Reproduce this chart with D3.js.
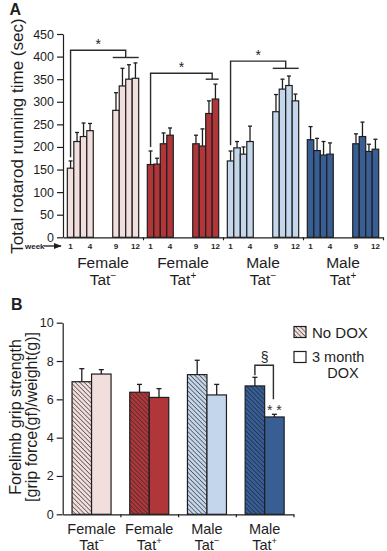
<!DOCTYPE html>
<html>
<head>
<meta charset="utf-8">
<script src="https://cdn.jsdelivr.net/npm/d3@7"></script>
<style>
  body { margin: 0; background: #fff; }
  svg { display: block; font-family: "Liberation Sans", Arial, sans-serif; }
</style>
</head>
<body>
<div id="chart"></div>
<script>
// groups shared by both panels
const groupSex = ["Female", "Female", "Male", "Male"];
const groupTat = ["\u2212", "+", "\u2212", "+"];
const groupColor = ["#f2dedd", "#b0363a", "#c4d6eb", "#385e93"];

// panel A: rotarod running time (sec) by week
const weeks = [1, 2, 3, 4, 9, 10, 11, 12];
const weekLabels = [1, 4, 9, 12];
const rotarodMean = [
  [153, 212, 223, 236, 281, 335, 350, 352],
  [161, 162, 207, 226, 207, 202, 274, 306],
  [169, 198, 184, 212, 278, 328, 336, 302],
  [216, 192, 182, 184, 207, 223, 190, 195]
];
const rotarodErr = [
  [16, 20, 30, 16, 39, 39, 32, 34],
  [30, 13, 24, 16, 19, 38, 28, 33],
  [22, 14, 16, 34, 38, 22, 21, 15],
  [29, 27, 30, 25, 22, 32, 16, 22]
];
const rotarodTicks = [0, 50, 100, 150, 200, 250, 300, 350, 400, 450];
// significance brackets: from week (left leg), top level, drop to span of weeks
const bracketGroup = [0, 1, 2];
const bracketTop = [414, 363, 390];
const bracketLow = [398, 350, 374];
const bracketLegEnd = [177, 200, 204];
const bracketSpan = [[9, 12], [11, 12], [9, 12]];

// panel B: forelimb grip strength
const gripNoDox = [6.92, 6.37, 7.29, 6.70];
const gripNoDoxErr = [0.68, 0.41, 0.75, 0.45];
const gripDox = [7.32, 6.10, 6.23, 5.08];
const gripDoxErr = [0.23, 0.46, 0.55, 0.14];
const gripTicks = [0, 2, 4, 6, 8, 10];

const W = 387, H = 551;
const ink = "#1e1e1e";

const svg = d3.select("#chart").append("svg")
  .attr("width", W)
  .attr("height", H);

const defs = svg.append("defs");
groupColor.forEach((c, i) => {
  const p = defs.append("pattern")
    .attr("id", "hatch" + i)
    .attr("patternUnits", "userSpaceOnUse")
    .attr("width", 3.2)
    .attr("height", 3.2)
    .attr("patternTransform", "rotate(-45)");
  p.append("rect").attr("width", 3.2).attr("height", 3.2).attr("fill", c);
  p.append("line")
    .attr("x1", 0).attr("y1", 0).attr("x2", 0).attr("y2", 3.2)
    .attr("stroke", i === 3 ? "#15223a" : "#2a2a2a")
    .attr("stroke-opacity", 0.85)
    .attr("stroke-width", 1.4);
});
defs.append("marker")
  .attr("id", "arrow")
  .attr("viewBox", "0 0 10 10")
  .attr("refX", 9).attr("refY", 5)
  .attr("markerWidth", 6).attr("markerHeight", 6)
  .attr("orient", "auto")
  .append("path")
  .attr("d", "M0,1 L10,5 L0,9 Z")
  .attr("fill", ink);

function styleAxis(sel) {
  sel.selectAll("path, line").attr("stroke", ink).attr("stroke-width", 1.2);
  sel.selectAll("text").attr("fill", ink).attr("font-size", 12.5);
}

function groupLabel(g, cx, y1, y2, size) {
  groupSex.forEach((s, i) => {
    const t = g.append("text")
      .attr("text-anchor", "middle")
      .attr("font-size", size)
      .attr("fill", ink);
    t.append("tspan").attr("x", cx(i)).attr("y", y1).text(s);
    t.append("tspan").attr("x", cx(i)).attr("y", y2).text("Tat");
    t.append("tspan")
      .attr("font-size", size * 0.65)
      .attr("dy", -size * 0.38)
      .text(groupTat[i]);
  });
}

// ---------------- Panel A ----------------
const gA = svg.append("g");
const yA = d3.scaleLinear().domain([0, 450]).range([237.3, 34]);
const xA = d3.scaleBand()
  .domain(d3.range(4))
  .range([63, 383])
  .paddingInner(0.108)
  .paddingOuter(0.054);
const slots = ["1", "2", "3", "4", "a", "b", "c", "9", "10", "11", "12"];
const xWeek = d3.scaleBand().domain(slots).range([0, xA.bandwidth()]);
const barX = (gi, w) => xA(gi) + xWeek(String(w));
const barC = (gi, w) => barX(gi, w) + xWeek.bandwidth() / 2;

gA.append("g")
  .attr("transform", "translate(63,0)")
  .call(d3.axisLeft(yA).tickValues(rotarodTicks).tickSize(6).tickPadding(3).tickSizeOuter(0))
  .call(styleAxis);

const edgeA = d3.scaleLinear().domain([0, 4]).range([63, 383]);
gA.append("g")
  .attr("transform", `translate(0,${yA(0)})`)
  .call(d3.axisBottom(edgeA).tickValues([1, 2, 3, 4]).tickSize(3).tickSizeOuter(0).tickFormat(""))
  .call(styleAxis);

const barsA = rotarodMean.flatMap((arr, gi) => arr.map((v, k) => ({
  gi, week: weeks[k], v, e: rotarodErr[gi][k]
})));

gA.selectAll(".errA")
  .data(barsA)
  .join("g")
  .attr("class", "errA")
  .each(function (d) {
    const c = barC(d.gi, d.week);
    const g = d3.select(this);
    g.append("line")
      .attr("x1", c).attr("x2", c)
      .attr("y1", yA(d.v)).attr("y2", yA(d.v + d.e))
      .attr("stroke", ink).attr("stroke-width", 1.3);
    g.append("line")
      .attr("x1", c - 2).attr("x2", c + 2)
      .attr("y1", yA(d.v + d.e)).attr("y2", yA(d.v + d.e))
      .attr("stroke", ink).attr("stroke-width", 1.3);
  });

gA.selectAll(".barA")
  .data(barsA)
  .join("rect")
  .attr("class", "barA")
  .attr("x", d => barX(d.gi, d.week))
  .attr("y", d => yA(d.v))
  .attr("width", xWeek.bandwidth())
  .attr("height", d => yA(0) - yA(d.v))
  .attr("fill", d => groupColor[d.gi])
  .attr("stroke", ink)
  .attr("stroke-width", 1.2);

// week labels
gA.selectAll(".wk")
  .data(d3.range(4).flatMap(gi => weekLabels.map(w => ({ gi, w }))))
  .join("text")
  .attr("class", "wk")
  .attr("x", d => barC(d.gi, d.w))
  .attr("y", 248.5)
  .attr("text-anchor", "middle")
  .attr("font-size", 8)
  .attr("font-weight", "bold")
  .attr("fill", ink)
  .text(d => d.w);

gA.append("text")
  .attr("x", 25).attr("y", 248.5)
  .attr("font-size", 8)
  .attr("font-weight", "bold")
  .attr("fill", ink)
  .text("week");
gA.append("line")
  .attr("x1", 44).attr("x2", 61)
  .attr("y1", 246).attr("y2", 246)
  .attr("stroke", ink).attr("stroke-width", 1.3)
  .attr("marker-end", "url(#arrow)");

groupLabel(gA, i => xA(i) + xA.bandwidth() / 2, 267.5, 284.5, 15.5);

// brackets
bracketGroup.forEach((gi, k) => {
  const x0 = barC(gi, 1);
  const s0 = barX(gi, bracketSpan[k][0]);
  const s1 = barX(gi, bracketSpan[k][1]) + xWeek.bandwidth();
  const mid = (s0 + s1) / 2;
  gA.append("path")
    .attr("d", `M${x0},${yA(bracketLegEnd[k])}V${yA(bracketTop[k])}H${mid}V${yA(bracketLow[k])}`)
    .attr("fill", "none")
    .attr("stroke", "#2b2b2b")
    .attr("stroke-width", 1.4);
  gA.append("line")
    .attr("x1", s0).attr("x2", s1)
    .attr("y1", yA(bracketLow[k])).attr("y2", yA(bracketLow[k]))
    .attr("stroke", "#2b2b2b").attr("stroke-width", 1.4);
  gA.append("text")
    .attr("x", (x0 + mid) / 2)
    .attr("y", yA(bracketTop[k]) - 1.5)
    .attr("text-anchor", "middle")
    .attr("font-size", 14)
    .attr("fill", ink)
    .text("*");
});

gA.append("text")
  .attr("transform", "rotate(-90)")
  .attr("x", -136)
  .attr("y", 22.5)
  .attr("text-anchor", "middle")
  .attr("font-size", 17)
  .attr("fill", ink)
  .text("Total rotarod running time (sec)");

svg.append("text")
  .attr("x", 9.5).attr("y", 14.5)
  .attr("font-size", 16)
  .attr("font-weight", "bold")
  .attr("fill", ink)
  .text("A");

// ---------------- Panel B ----------------
const gB = svg.append("g");
const yB = d3.scaleLinear().domain([0, 10]).range([514.3, 322.7]);
const xB = d3.scaleBand()
  .domain(d3.range(4))
  .range([62.7, 293.5])
  .paddingInner(0.324)
  .paddingOuter(0.162);
const xDox = d3.scaleBand().domain(["no", "dox"]).range([0, xB.bandwidth()]);

gB.append("g")
  .attr("transform", "translate(62.7,0)")
  .call(d3.axisLeft(yB).tickValues(gripTicks).tickSize(6).tickPadding(3).tickSizeOuter(0))
  .call(styleAxis);

const edgeB = d3.scaleLinear().domain([0, 4]).range([62.7, 293.5]);
gB.append("g")
  .attr("transform", `translate(0,${yB(0)})`)
  .call(d3.axisBottom(edgeB).tickValues([1, 2, 3, 4]).tickSize(3).tickSizeOuter(0).tickFormat(""))
  .call(styleAxis);

const barsB = d3.range(4).flatMap(gi => [
  { gi, k: "no", v: gripNoDox[gi], e: gripNoDoxErr[gi] },
  { gi, k: "dox", v: gripDox[gi], e: gripDoxErr[gi] }
]);
const bXB = d => xB(d.gi) + xDox(d.k);
const bCB = d => bXB(d) + xDox.bandwidth() / 2;

gB.selectAll(".errB")
  .data(barsB)
  .join("g")
  .attr("class", "errB")
  .each(function (d) {
    const c = bCB(d);
    const g = d3.select(this);
    g.append("line")
      .attr("x1", c).attr("x2", c)
      .attr("y1", yB(d.v)).attr("y2", yB(d.v + d.e))
      .attr("stroke", ink).attr("stroke-width", 1.3);
    g.append("line")
      .attr("x1", c - 2.5).attr("x2", c + 2.5)
      .attr("y1", yB(d.v + d.e)).attr("y2", yB(d.v + d.e))
      .attr("stroke", ink).attr("stroke-width", 1.3);
  });

gB.selectAll(".barB")
  .data(barsB)
  .join("rect")
  .attr("class", "barB")
  .attr("x", bXB)
  .attr("y", d => yB(d.v))
  .attr("width", xDox.bandwidth())
  .attr("height", d => yB(0) - yB(d.v))
  .attr("fill", d => d.k === "no" ? `url(#hatch${d.gi})` : groupColor[d.gi])
  .attr("stroke", ink)
  .attr("stroke-width", 1.2);

groupLabel(gB, i => xB(i) + xB.bandwidth() / 2, 533.5, 549.5, 14.5);

// § bracket and ** on Male Tat+
const mNo = barsB[6], mDox = barsB[7];
const topS = yB(mNo.v + mNo.e) - 12;
gB.append("path")
  .attr("d", `M${bCB(mNo)},${yB(mNo.v + mNo.e) - 2}V${topS}H${bCB(mDox) - 1}V${yB(mDox.v + mDox.e) - 15}`)
  .attr("fill", "none")
  .attr("stroke", "#2b2b2b")
  .attr("stroke-width", 1.4);
gB.append("text")
  .attr("x", (bCB(mNo) + bCB(mDox)) / 2)
  .attr("y", topS - 3)
  .attr("text-anchor", "middle")
  .attr("font-size", 14)
  .attr("fill", ink)
  .text("§");
gB.append("text")
  .attr("x", bCB(mDox))
  .attr("y", yB(mDox.v + mDox.e) + 1)
  .attr("text-anchor", "middle")
  .attr("font-size", 14)
  .attr("fill", "#333")
  .text("* *");

// legend
const leg = gB.append("g");
leg.append("rect")
  .attr("x", 294).attr("y", 326.5).attr("width", 12).attr("height", 11)
  .attr("fill", "url(#hatch0)").attr("stroke", ink).attr("stroke-width", 1.2);
leg.append("text")
  .attr("x", 312).attr("y", 337.5)
  .attr("font-size", 15).attr("fill", ink)
  .text("No DOX");
leg.append("rect")
  .attr("x", 294).attr("y", 351.5).attr("width", 12).attr("height", 11)
  .attr("fill", "#fff").attr("stroke", ink).attr("stroke-width", 1.2);
const lt = leg.append("text").attr("font-size", 14.5).attr("fill", ink);
lt.append("tspan").attr("x", 312).attr("y", 362).text("3 month");
lt.append("tspan").attr("x", 343).attr("y", 378).attr("text-anchor", "middle").text("DOX");

const tB = gB.append("text")
  .attr("transform", "rotate(-90)")
  .attr("text-anchor", "middle")
  .attr("font-size", 16)
  .attr("fill", ink);
tB.append("tspan").attr("x", -417).attr("y", 20.5).text("Forelimb grip strength");
tB.append("tspan").attr("x", -417).attr("y", 37).text("[grip force(gf)/weight(g)]");

svg.append("text")
  .attr("x", 11).attr("y", 310)
  .attr("font-size", 16)
  .attr("font-weight", "bold")
  .attr("fill", ink)
  .text("B");
</script>
</body>
</html>
